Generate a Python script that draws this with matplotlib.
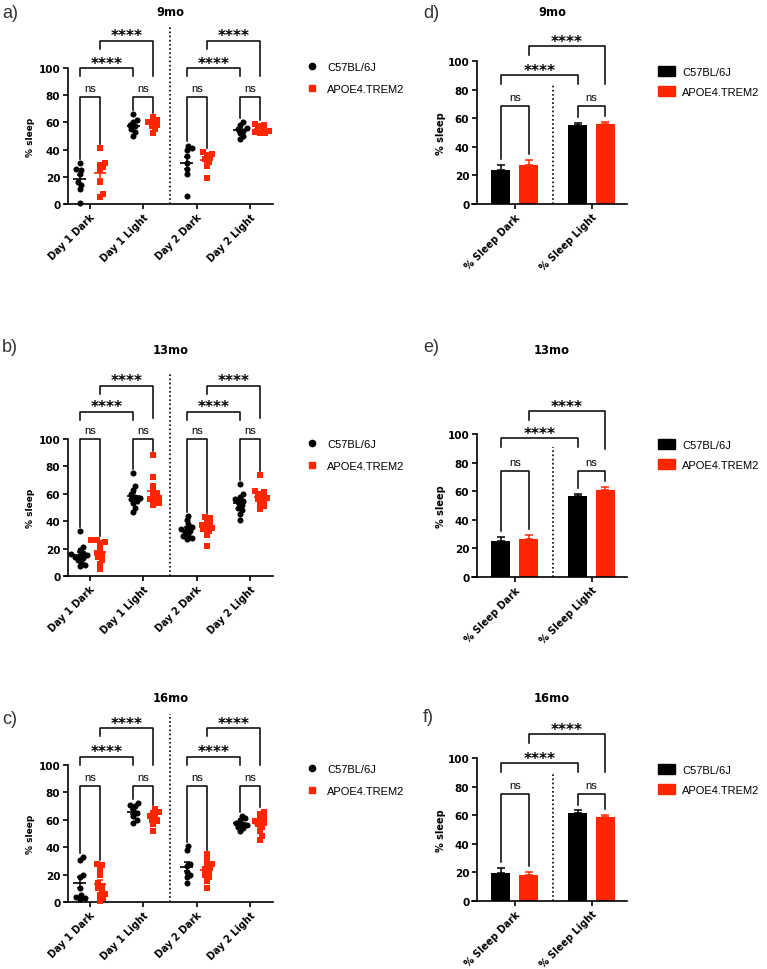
import matplotlib

matplotlib.use("Agg")
import matplotlib.pyplot as plt
import numpy as np
from matplotlib.lines import Line2D
from matplotlib.patches import Patch

plt.rcParams["font.family"] = ["Liberation Sans", "DejaVu Sans"]
HEAVY = ["DejaVu Sans"]

# ---- data -------------------------------------------------------------
categories = ["Day 1 Dark", "Day 1 Light", "Day 2 Dark", "Day 2 Light"]
bar_categories = ["% Sleep Dark", "% Sleep Light"]
groups = ["C57BL/6J", "APOE4.TREM2"]
ages = ["9mo", "13mo", "16mo"]

wt_9mo = [
    [30, 26, 25, 22, 16, 14, 11, 1],
    [66, 62, 60, 58, 57, 55, 53, 50],
    [43, 41, 40, 35, 30, 26, 22, 6],
    [60, 58, 56, 55, 54, 52, 50, 48],
]
tg_9mo = [
    [41, 30, 29, 27, 25, 16, 7, 5],
    [64, 62, 60, 60, 58, 57, 55, 52],
    [38, 37, 36, 34, 33, 31, 28, 19],
    [59, 58, 57, 55, 54, 53, 52, 52],
]
wt_13mo = [
    [33, 21, 19, 17, 16, 15, 15, 14, 13, 12, 10, 8, 7],
    [75, 66, 63, 60, 58, 57, 56, 55, 53, 50, 47],
    [44, 41, 38, 36, 35, 34, 33, 32, 30, 29, 28, 27],
    [67, 60, 58, 56, 55, 54, 52, 50, 48, 45, 41],
]
tg_13mo = [
    [26, 26, 25, 24, 20, 17, 16, 14, 12, 9, 5],
    [88, 72, 66, 62, 60, 58, 57, 56, 55, 53, 52],
    [43, 42, 40, 38, 37, 36, 35, 34, 33, 30, 22],
    [74, 62, 61, 60, 58, 57, 56, 55, 53, 51, 49],
]
wt_16mo = [
    [33, 31, 20, 18, 10, 5, 4, 3, 2],
    [72, 71, 70, 67, 65, 63, 60, 58],
    [41, 38, 28, 26, 22, 20, 18, 14],
    [63, 61, 60, 58, 57, 56, 55, 54, 52],
]
tg_16mo = [
    [28, 27, 24, 20, 14, 12, 10, 8, 6, 5, 3, 1],
    [68, 66, 65, 63, 62, 60, 59, 57, 52],
    [35, 31, 28, 27, 25, 24, 22, 20, 18, 15, 10],
    [66, 64, 62, 60, 59, 58, 57, 55, 52, 48, 45],
]

# bar panels: mean and SEM of % sleep (dark, light)
wt_bar_mean = {"9mo": [23.7, 55.1], "13mo": [25.1, 56.3], "16mo": [19.8, 61.4]}
wt_bar_sem = {"9mo": [3.5, 1.4], "13mo": [2.8, 1.6], "16mo": [3.5, 1.9]}
tg_bar_mean = {"9mo": [27.4, 55.8], "13mo": [26.5, 60.5], "16mo": [17.9, 58.6]}
tg_bar_sem = {"9mo": [3.3, 1.4], "13mo": [2.8, 2.3], "16mo": [2.3, 1.6]}

scatter_data = {"9mo": (wt_9mo, tg_9mo), "13mo": (wt_13mo, tg_13mo), "16mo": (wt_16mo, tg_16mo)}

# ---- layout (pixels in a 767x970 canvas) ------------------------------
W, H = 767, 970
BLACK, RED = "#000000", "#ff2600"
scatter_box = {"9mo": (68, 69, 273, 205), "13mo": (68, 440, 273, 577), "16mo": (68, 766, 273, 903)}
bar_box = {"9mo": (477, 62, 627, 205), "13mo": (477, 435, 627, 578), "16mo": (477, 759, 627, 902)}
title_y = {"9mo": 13, "13mo": 351, "16mo": 699}
scatter_label = {"9mo": ("a)", 13), "13mo": ("b)", 348), "16mo": ("c)", 720)}
bar_label = {"9mo": ("d)", 13), "13mo": ("e)", 348), "16mo": ("f)", 718)}
scatter_legend_y = {"9mo": 68, "13mo": 445, "16mo": 770}
bar_legend_y = {"9mo": 71, "13mo": 444, "16mo": 769}
# bracket levels (ns, lower ****, upper ****)
scatter_levels = {"9mo": (79, 100, 120), "13mo": (100, 120, 139), "16mo": (85, 106, 127)}
bar_levels = {"9mo": (68.6, 90, 110.5), "13mo": (74.4, 97, 116), "16mo": (75, 96.5, 116.7)}


def px_axes(fig, box):
    l, t, r, b = box
    return fig.add_axes([l / W, 1 - b / H, (r - l) / W, (b - t) / H])


def style_axes(ax, ylabel_size, labelpad):
    for s in ("top", "right"):
        ax.spines[s].set_visible(False)
    for s in ("left", "bottom"):
        ax.spines[s].set_linewidth(1.2)
    ax.set_ylim(0, 100)
    ax.set_yticks(range(0, 101, 20))
    ax.tick_params(length=3.5, width=1.2, pad=2)
    ax.tick_params(axis="y", labelsize=7.5)
    for lab in ax.get_yticklabels():
        lab.set_fontweight("bold")
        lab.set_family(HEAVY)
    ax.set_ylabel("% sleep", fontsize=ylabel_size, fontweight="bold", family=HEAVY,
                  labelpad=labelpad)


def swarm(vals, center, ppx, ppy, diam=4.3):
    vals = np.asarray(vals, float)
    xs = np.empty(len(vals))
    placed = []
    step = diam * 0.4
    for i in np.argsort(vals):
        y = vals[i] * ppy
        for k in range(60):
            off = ((k + 1) // 2) * step * (1 if k % 2 else -1)
            if all((off - px) ** 2 + (y - py) ** 2 >= diam ** 2 for px, py in placed):
                break
        placed.append((off, y))
        xs[i] = center + off / ppx
    return xs


def bracket(ax, x1, x2, y, e1, e2, text, bold):
    ax.plot([x1, x1, x2, x2], [e1, y, y, e2], color="k", lw=1.1, clip_on=False)
    if bold:
        ax.annotate(text, (0.5 * (x1 + x2), y), xytext=(0, 0.3), textcoords="offset points",
                    ha="center", va="baseline", fontsize=11, fontweight="bold",
                    family=HEAVY, annotation_clip=False)
    else:
        ax.annotate(text, (0.5 * (x1 + x2), y), xytext=(0, 4.2), textcoords="offset points",
                    ha="center", va="baseline", fontsize=8, annotation_clip=False)


fig = plt.figure(figsize=(W / 100, H / 100), dpi=100)

for age in ages:
    # ---------------- scatter panel ----------------
    box = scatter_box[age]
    ax = px_axes(fig, box)
    style_axes(ax, 6.5, 2.5)
    ax.set_xlim(-0.41, 3.43)
    ppx = (box[2] - box[0]) / 3.84
    ppy = (box[3] - box[1]) / 100
    wt, tg = scatter_data[age]
    off = 0.19
    tops = {}
    for ci in range(len(categories)):
        for vals, sgn, col, mk in ((wt[ci], -1, BLACK, "o"), (tg[ci], 1, RED, "s")):
            c = ci + sgn * off
            xs = swarm(vals, c, ppx, ppy)
            ax.scatter(xs, vals, s=19 if mk == "o" else 16, marker=mk, color=col,
                       linewidths=0, zorder=3, clip_on=False)
            m = np.mean(vals)
            sem = np.std(vals, ddof=1) / np.sqrt(len(vals))
            ax.hlines(m, c - 0.12, c + 0.12, color=col, lw=1.2, zorder=4)
            ax.errorbar(c, m, yerr=sem, fmt="none", ecolor=col, elinewidth=1.1,
                        capsize=2.5, capthick=1.1, zorder=4)
            tops[(ci, sgn)] = max(vals)
    ax.set_xticks(range(len(categories)))
    ax.set_xticklabels(categories, rotation=45, ha="right", rotation_mode="anchor",
                       fontweight="bold", fontsize=7, family=HEAVY)
    ax.spines["bottom"].set_bounds(-0.47, 3.43)
    ns, lo, hi = scatter_levels[age]
    for ci in range(len(categories)):
        x1, x2 = ci - off, ci + off
        bracket(ax, x1, x2, ns, min(ns - 6, tops[(ci, -1)] + 3),
                min(ns - 6, tops[(ci, 1)] + 3), "ns", False)
    for a in (0, 2):
        bracket(ax, a - off, a + 1 - off, lo, lo - 6, lo - 6, "****", True)
        bracket(ax, a + off, a + 1 + off, hi, hi - 6, ns + 15, "****", True)
    ax.plot([1.5, 1.5], [0, hi + 10], ls=(0, (1, 1.5)), color="k", lw=1.2, clip_on=False)

    cx = 0.5 * (box[0] + box[2])
    fig.text(cx / W, 1 - title_y[age] / H, age, ha="center", va="center",
             fontsize=8.3, fontweight="bold", family=HEAVY)
    lab, ly = scatter_label[age]
    fig.text(2 / W, 1 - ly / H, lab, ha="left", va="center", fontsize=13, color="#333333")
    handles = [Line2D([], [], ls="none", marker="o", color=BLACK, markersize=4.5),
               Line2D([], [], ls="none", marker="s", color=RED, markersize=4.2)]
    fig.legend(handles, groups, loc="upper left",
               bbox_to_anchor=(306.5 / W, 1 - (scatter_legend_y[age] - 5) / H),
               frameon=False, fontsize=8, handlelength=1.0, handletextpad=0.85,
               labelspacing=1.05, borderpad=0, borderaxespad=0)

    # ---------------- bar panel ----------------
    box = bar_box[age]
    bx = px_axes(fig, box)
    style_axes(bx, 7, 1)
    bx.set_xlim(-0.49, 1.46)
    boff, bw = 0.18, 0.25
    xw = np.arange(2) - boff
    xt = np.arange(2) + boff
    bx.bar(xw, wt_bar_mean[age], width=bw, color=BLACK, zorder=2)
    bx.bar(xt, tg_bar_mean[age], width=bw, color=RED, zorder=2)
    bx.errorbar(xw, wt_bar_mean[age], yerr=[np.zeros(2), wt_bar_sem[age]], fmt="none",
                ecolor=BLACK, elinewidth=1.1, capsize=3, capthick=1.1, zorder=3)
    bx.errorbar(xt, tg_bar_mean[age], yerr=[np.zeros(2), tg_bar_sem[age]], fmt="none",
                ecolor=RED, elinewidth=1.1, capsize=3, capthick=1.1, zorder=3)
    bx.set_xticks(range(2))
    bx.set_xticklabels(bar_categories, rotation=45, ha="right", rotation_mode="anchor",
                       fontweight="bold", fontsize=7, family=HEAVY)
    bx.spines["bottom"].set_bounds(-0.55, 1.46)
    ns, lo, hi = bar_levels[age]
    wt_top = np.add(wt_bar_mean[age], wt_bar_sem[age])
    tg_top = np.add(tg_bar_mean[age], tg_bar_sem[age])
    for ci in range(2):
        bracket(bx, xw[ci], xt[ci], ns, min(ns - 6, wt_top[ci] + 4),
                min(ns - 6, tg_top[ci] + 4), "ns", False)
    bracket(bx, xw[0], xw[1], lo, lo - 6, lo - 6, "****", True)
    bracket(bx, xt[0], xt[1], hi, hi - 6, ns + 15, "****", True)
    bx.plot([0.5, 0.5], [0, lo - 6], ls=(0, (1, 1.5)), color="k", lw=1.2, clip_on=False)

    cx = 0.5 * (box[0] + box[2])
    fig.text(cx / W, 1 - title_y[age] / H, age, ha="center", va="center",
             fontsize=8.3, fontweight="bold", family=HEAVY)
    lab, ly = bar_label[age]
    fig.text(423 / W, 1 - ly / H, lab, ha="left", va="center", fontsize=13, color="#333333")
    handles = [Patch(color=BLACK), Patch(color=RED)]
    fig.legend(handles, groups, loc="upper left",
               bbox_to_anchor=(658 / W, 1 - (bar_legend_y[age] - 4) / H),
               frameon=False, fontsize=8, handlelength=1.55, handleheight=1.05,
               handletextpad=0.6, labelspacing=0.8, borderpad=0, borderaxespad=0)

fig.savefig("out.png", dpi=100)
